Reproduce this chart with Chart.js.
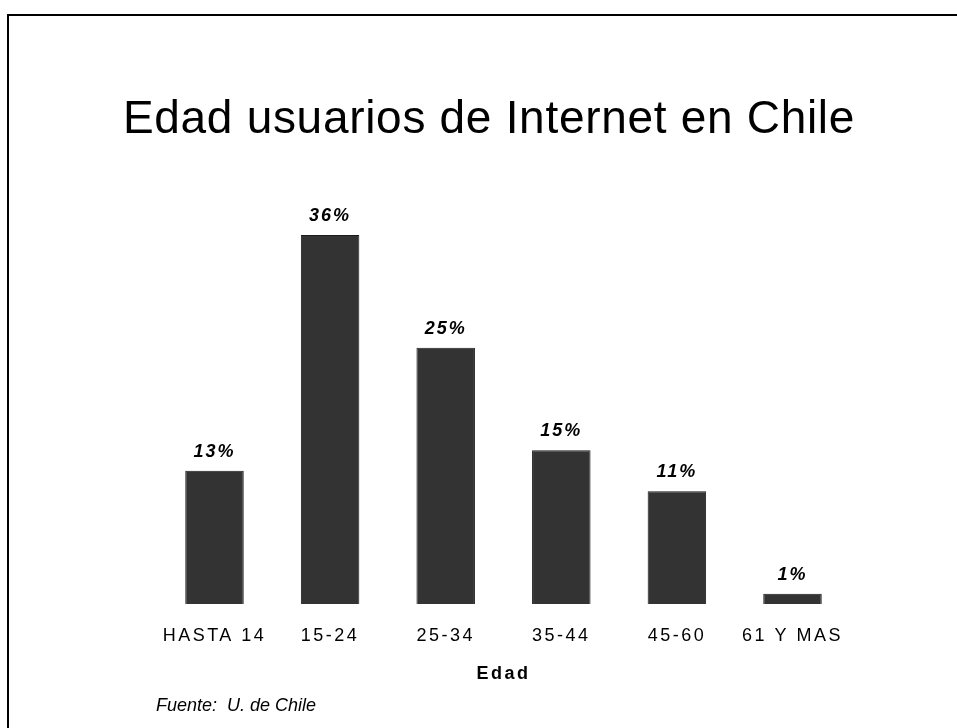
<!DOCTYPE html>
<html>
<head>
<meta charset="utf-8">
<script src="https://cdn.jsdelivr.net/npm/chart.js@4/dist/chart.umd.min.js"></script>
<style>
  body { margin: 0; background: #fff; }
</style>
</head>
<body>
<canvas id="barChart" width="957" height="728"></canvas>
<script>
var categories = ['HASTA 14', '15-24', '25-34', '35-44', '45-60', '61 Y MAS'];
var porcentajes = [13, 36, 25, 15, 11, 1];
var titulo = 'Edad usuarios de Internet en Chile';
var ejeTitulo = 'Edad';
var fuente = 'Fuente:  U. de Chile';

var FONT = '"Liberation Sans", Arial, sans-serif';

// letter spacing for the axis text, reset before bars are drawn
var spacing = {
  id: 'spacing',
  beforeDraw: function (chart) { chart.ctx.letterSpacing = '2.5px'; },
  beforeDatasetsDraw: function (chart) { chart.ctx.letterSpacing = '0px'; }
};

// frame, heading, value labels and source note
var extras = {
  id: 'extras',
  afterDraw: function (chart) {
    var ctx = chart.ctx;
    ctx.save();
    ctx.fillStyle = '#000';
    ctx.fillRect(7, 14, 2, 800);
    ctx.fillRect(7, 14, 1000, 2);

    ctx.letterSpacing = '0.7px';
    ctx.font = '46px ' + FONT;
    ctx.textAlign = 'center';
    ctx.textBaseline = 'alphabetic';
    ctx.fillText(titulo, 489, 133);

    ctx.letterSpacing = '2px';
    ctx.font = 'italic bold 18px ' + FONT;
    var meta = chart.getDatasetMeta(0);
    meta.data.forEach(function (bar, i) {
      ctx.fillText(porcentajes[i] + '%', bar.x, bar.y - 14);
    });

    ctx.letterSpacing = '0px';
    ctx.font = 'italic 18px ' + FONT;
    ctx.textAlign = 'left';
    ctx.fillText(fuente, 156, 711);
    ctx.restore();
  }
};

var ctx = document.getElementById('barChart').getContext('2d');
var barChart = new Chart(ctx, {
  type: 'bar',
  data: {
    labels: categories,
    datasets: [{
      data: porcentajes,
      backgroundColor: '#333333',
      borderColor: '#1c1c1c',
      borderWidth: 1,
      barPercentage: 0.506,
      categoryPercentage: 1
    }]
  },
  options: {
    responsive: false,
    animation: false,
    layout: {
      padding: { left: 156.7, right: 106.7, top: 194, bottom: 0 }
    },
    plugins: {
      legend: { display: false },
      tooltip: { enabled: false }
    },
    scales: {
      x: {
        grid: { display: false, drawTicks: false },
        border: { display: false },
        ticks: {
          color: '#000',
          padding: 21,
          font: { family: FONT, size: 18 }
        },
        title: {
          display: true,
          text: ejeTitulo,
          color: '#000',
          font: { family: FONT, size: 18, weight: 'bold' },
          padding: { top: 0, bottom: 43 }
        },
        afterFit: function (scale) { scale.height = 124; }
      },
      y: {
        display: false,
        min: 0,
        max: 40
      }
    }
  },
  plugins: [spacing, extras]
});
</script>
</body>
</html>
